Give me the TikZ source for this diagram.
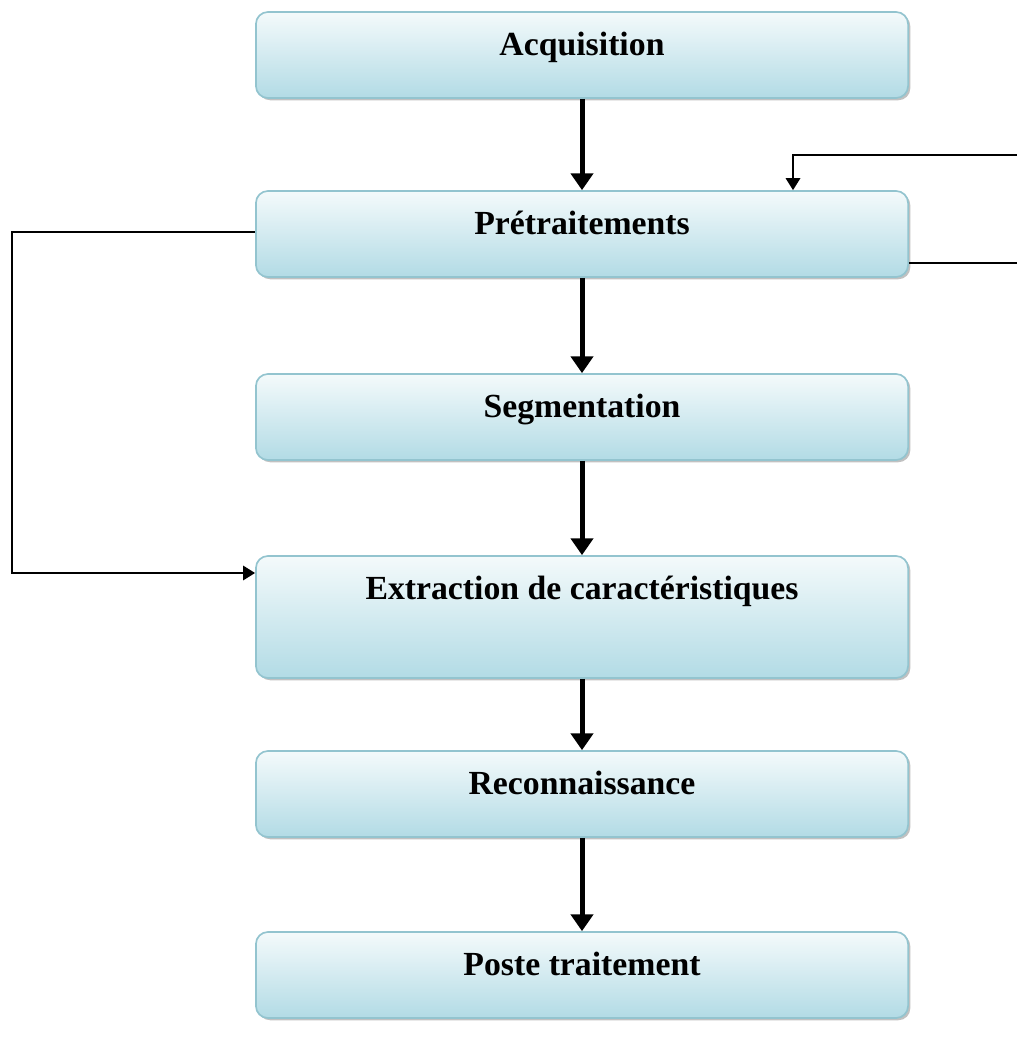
\documentclass[tikz,border=0pt]{standalone}
\usepackage{fontspec}
\setmainfont{Liberation Serif}
\usetikzlibrary{arrows.meta,shadows}
\definecolor{boxtop}{HTML}{F4FAFB}
\definecolor{boxmid}{HTML}{D8EEF2}
\definecolor{boxbot}{HTML}{B2DBE5}
\definecolor{boxline}{HTML}{93C4CF}
\tikzset{
  stage/.style={rectangle, rounded corners=0.3cm, draw=boxline, line width=1.2pt,
    top color=boxtop, middle color=boxmid, bottom color=boxbot,
    drop shadow={shadow xshift=1.6pt, shadow yshift=-1.6pt, fill=gray!70, opacity=0.7},
    minimum width=16.3cm, inner ysep=0.475cm, text height=0.6cm, text depth=0.6cm,
    font=\fontsize{24}{28}\selectfont\bfseries},
  flow/.style={line width=0.125cm, -{Triangle[length=0.42cm,width=0.55cm]}},
  loopline/.style={line width=0.05cm, -{Triangle[length=0.3cm,width=0.36cm]}}
}
\begin{document}
\begin{tikzpicture}[x=0.025cm,y=-0.025cm]
  \useasboundingbox (0,0) rectangle (1017,1046);
  \node[stage] (acq) at (582,55) {Acquisition};
  \node[stage] (pre) at (582,234) {Prétraitements};
  \node[stage] (seg) at (582,417) {Segmentation};
  \node[stage, text depth=1.5cm] (ext) at (582,617) {Extraction de caractéristiques};
  \node[stage] (rec) at (582,794) {Reconnaissance};
  \node[stage] (post) at (582,975) {Poste traitement};
  % main chain
  \draw[flow] (acq) -- (pre);
  \draw[flow] (pre) -- (seg);
  \draw[flow] (seg) -- (ext);
  \draw[flow] (ext) -- (rec);
  \draw[flow] (rec) -- (post);
  % feedback on the right, its far side beyond the page
  \coordinate (rout) at (1035,263);
  \coordinate (rin) at (1035,155);
  \coordinate (rdown) at (793,155);
  \draw[loopline] (pre.east |- rout) -- (rout) -- (rin) -- (rdown) -- (rdown |- pre.north);
  % bypass on the left
  \coordinate (lout) at (12,232);
  \coordinate (lin) at (12,573);
  \draw[loopline] (pre.west |- lout) -- (lout) -- (lin) -- (ext.west |- lin);
\end{tikzpicture}
\end{document}
